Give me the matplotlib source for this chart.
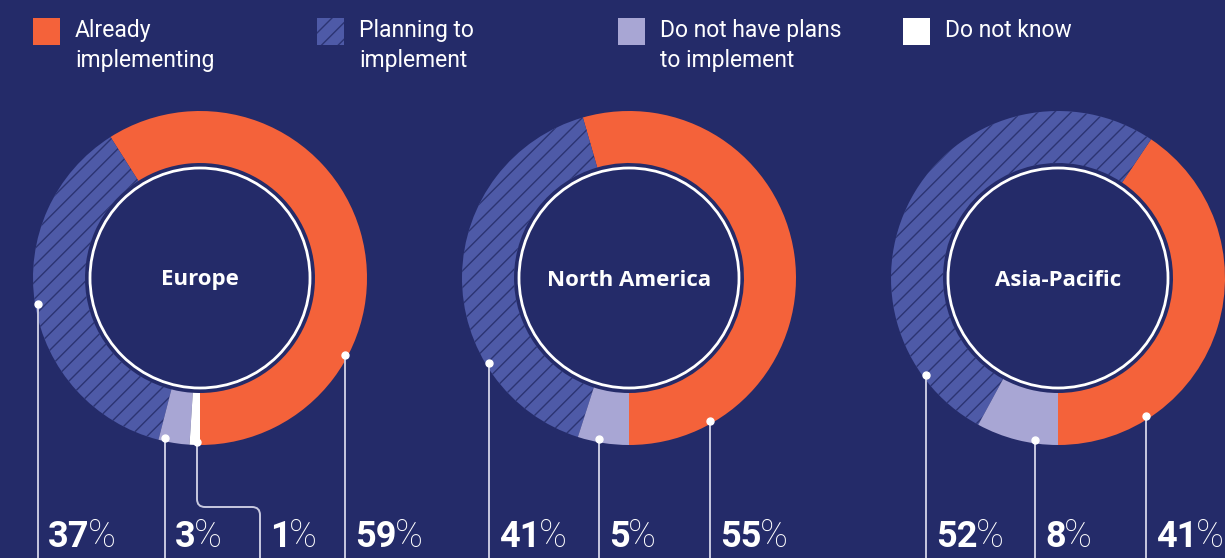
import numpy as np
import matplotlib.pyplot as plt
from matplotlib.patches import Circle, Rectangle, PathPatch
from matplotlib.path import Path

# canvas size in pixels
W, H = 1225, 558

regions = ['Europe', 'North America', 'Asia-Pacific']
legend_labels = ['Already\nimplementing', 'Planning to\nimplement',
                 'Do not have plans\nto implement', 'Do not know']
already = [59, 55, 41]
planning = [37, 41, 52]
no_plans = [3, 5, 8]
dont_know = [1, 0, 0]

BG = '#242b69'
colors = ['#f4623a', '#4e5aa7', '#a8a6d4', '#ffffff']
HATCH_COLOR = '#2c3472'
LINE_COLOR = '#c8c9e0'

plt.rcParams['hatch.linewidth'] = 1.0


def Y(y):
    # pixel rows are counted from the top
    return H - y


fig = plt.figure(figsize=(W / 100, H / 100), dpi=100, facecolor=BG)
ax = fig.add_axes([0, 0, 1, 1])
ax.set_facecolor(BG)

# ---- legend ----
legend_x = [33, 317, 618, 903]
for x, lab, col in zip(legend_x, legend_labels, colors):
    sq = Rectangle((x, Y(45)), 27, 27, facecolor=col, linewidth=0)
    if col == colors[1]:
        sq.set_hatch('//')
        sq.set_edgecolor(HATCH_COLOR)
    ax.add_patch(sq)
    for k, line in enumerate(lab.split('\n')):
        ax.text(x + 42, Y(37 + 30 * k), line, color='white', fontsize=16.5,
                family='Roboto', va='baseline', ha='left')

# ---- donuts ----
centers_x = [200, 629, 1058]
cy = Y(278)
R_OUT, R_IN, R_CIRCLE, R_DOT = 167, 115, 110, 164

# x of the leader line for each category, and where the dot sits on the ring
line_cols = [[345, 38, 165, 260], [710, 489, 599, None], [1146, 926, 1035, None]]
dot_cols = [[345, 38, 165, 197], [710, 489, 599, None], [1146, 926, 1035, None]]
ELBOW_Y = 507
CORNER = 8

for i, name in enumerate(regions):
    cx = centers_x[i]
    vals = [already[i], planning[i], no_plans[i], dont_know[i]]
    keep = [j for j, v in enumerate(vals) if v > 0]
    wedges, _ = ax.pie([vals[j] for j in keep], colors=[colors[j] for j in keep],
                       startangle=270, counterclock=True, radius=R_OUT,
                       center=(cx, cy), frame=True,
                       wedgeprops=dict(width=R_OUT - R_IN, linewidth=0))
    for w, j in zip(wedges, keep):
        if j == 1:
            w.set_hatch('//')
            w.set_edgecolor(HATCH_COLOR)
            w.set_linewidth(0)

    ax.add_patch(Circle((cx, cy), R_CIRCLE, facecolor='none',
                        edgecolor='white', linewidth=2, zorder=3))
    ax.text(cx, Y(280), name, color='white', fontsize=16, family='Open Sans',
            fontweight='bold', ha='center', va='center', zorder=4)

    # leader lines and value labels
    for j in keep:
        lx, dx = line_cols[i][j], dot_cols[i][j]
        dy = Y(278) - np.sqrt(R_DOT ** 2 - (dx - cx) ** 2)
        if lx == dx:
            ax.plot([dx, dx], [dy, -5], color=LINE_COLOR, lw=1.4,
                    solid_capstyle='butt', zorder=5)
        else:
            verts = [(dx, dy), (dx, Y(ELBOW_Y - CORNER)),
                     (dx, Y(ELBOW_Y)), (dx + CORNER, Y(ELBOW_Y)),
                     (lx - CORNER, Y(ELBOW_Y)),
                     (lx, Y(ELBOW_Y)), (lx, Y(ELBOW_Y + CORNER)),
                     (lx, -5)]
            codes = [Path.MOVETO, Path.LINETO, Path.CURVE3, Path.CURVE3,
                     Path.LINETO, Path.CURVE3, Path.CURVE3, Path.LINETO]
            ax.add_patch(PathPatch(Path(verts, codes), facecolor='none',
                                   edgecolor=LINE_COLOR, lw=1.4, zorder=5))
        ax.plot(dx, dy, 'o', color='white', markersize=5, zorder=6)

        num = ax.text(lx + 10, Y(547), f'{vals[j]}', color='white',
                      fontsize=26, family='Roboto', fontweight='bold',
                      ha='left', va='baseline', zorder=6)
        ax.annotate('%', xy=(1, 0), xycoords=num, xytext=(-1, 0),
                    textcoords='offset points', color='white', fontsize=27,
                    family='Roboto', fontweight='light', ha='left',
                    va='bottom', zorder=6)

ax.set_xlim(0, W)
ax.set_ylim(0, H)
ax.set_aspect('auto')
ax.axis('off')

fig.savefig('out.png', dpi=100, facecolor=BG)
